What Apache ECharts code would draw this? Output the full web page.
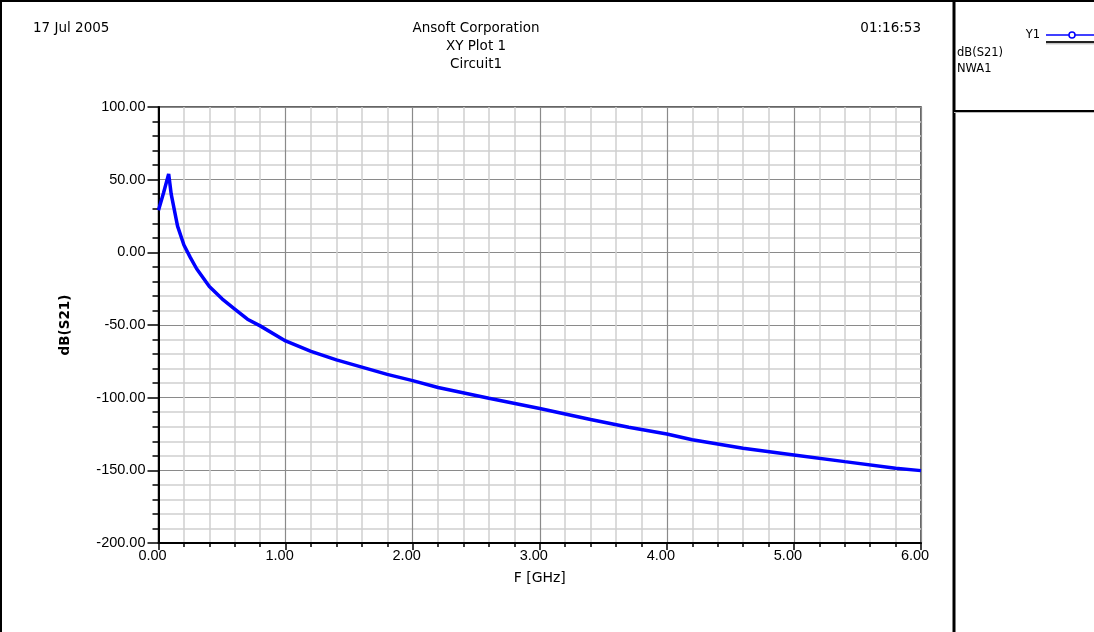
<!DOCTYPE html>
<html>
<head>
<meta charset="utf-8">
<script src="https://cdn.jsdelivr.net/npm/echarts@6/dist/echarts.min.js"></script>
<style>
  html, body { margin: 0; padding: 0; background: #fff; }
  #chart { width: 1094px; height: 632px; }
</style>
</head>
<body>
<div id="chart"></div>
<script>
// Sweep frequency (GHz) and transmission magnitude dB(S21) of NWA1
const freqGHz = [0, 0.04, 0.08, 0.10, 0.15, 0.20, 0.25, 0.30, 0.40, 0.50, 0.60, 0.70, 0.80,
                 1.0, 1.2, 1.4, 1.6, 1.8, 2.0, 2.2, 2.6, 3.0, 3.4, 3.7, 4.0, 4.2, 4.6,
                 5.0, 5.4, 5.8, 6.0];
const dbS21 = [29, 41, 54, 40, 18, 5, -3.5, -11.3, -23.5, -32, -39, -46, -50.6,
               -61, -68.2, -74, -79, -84, -88.3, -93, -100.4, -107.5, -115, -120.4, -125, -129, -134.8,
               -139.4, -144, -148.5, -150.2];

// Axis ranges and tick spacing
const xRange = [0, 6];
const xStep = 1;
const yRange = [-200, 100];
const yStep = 50;

// Page header and legend texts
const headerLeft = '17 Jul 2005';
const headerCenter = ['Ansoft Corporation', 'XY Plot 1', 'Circuit1'];
const headerRight = '01:16:53';
const legendTrace = 'Y1';
const legendLines = ['dB(S21)', 'NWA1'];

const TICK_FONT = '"Liberation Sans", Arial, sans-serif';
const PAGE_FONT = '"DejaVu Sans", Verdana, sans-serif';
const chart = echarts.init(document.getElementById('chart'), null, { renderer: 'canvas' });

const points = freqGHz.map((f, i) => [f, dbS21[i]]);

const txt = (text, x, y, align, size) => ({
  type: 'text',
  silent: true,
  style: {
    text, x, y,
    textAlign: align,
    textVerticalAlign: 'middle',
    fontSize: size,
    fontFamily: PAGE_FONT,
    fill: '#000'
  }
});
const seg = (x1, y1, x2, y2, color, width) => ({
  type: 'line',
  silent: true,
  shape: { x1, y1, x2, y2 },
  style: { stroke: color, lineWidth: width }
});

chart.setOption({
  animation: false,
  backgroundColor: '#ffffff',
  grid: {
    left: 158.5, top: 107, right: 173, bottom: 89,
    show: true, borderColor: '#333', borderWidth: 1.5
  },
  xAxis: {
    type: 'value',
    min: xRange[0], max: xRange[1], interval: xStep,
    name: 'F [GHz]',
    nameLocation: 'middle',
    nameGap: 28,
    nameTextStyle: { fontFamily: PAGE_FONT, fontSize: 14, color: '#000' },
    axisLine: { show: true, onZero: false, lineStyle: { color: '#000', width: 2 } },
    axisTick: { show: true, length: 7, lineStyle: { color: '#000', width: 1.5 } },
    minorTick: { show: true, splitNumber: 5, length: 4, lineStyle: { color: '#000', width: 1.5 } },
    axisLabel: {
      fontFamily: TICK_FONT, fontSize: 14.5, color: '#000', margin: 5,
      padding: [0, 12, 0, 0],
      formatter: v => v.toFixed(2)
    },
    splitLine: { show: true, lineStyle: { color: '#8a8a8a', width: 1.2 } },
    minorSplitLine: { show: true, lineStyle: { color: '#cfcfcf', width: 1.5 } }
  },
  yAxis: {
    type: 'value',
    min: yRange[0], max: yRange[1], interval: yStep,
    name: 'dB(S21)',
    nameLocation: 'middle',
    nameGap: 86,
    nameRotate: 90,
    nameTextStyle: { fontFamily: PAGE_FONT, fontSize: 13.5, fontWeight: 'bold', color: '#000' },
    axisLine: { show: true, onZero: false, lineStyle: { color: '#000', width: 2 } },
    axisTick: { show: true, length: 11, lineStyle: { color: '#000', width: 1.5 } },
    minorTick: { show: true, splitNumber: 5, length: 6, lineStyle: { color: '#000', width: 1.5 } },
    axisLabel: {
      fontFamily: TICK_FONT, fontSize: 14.5, color: '#000', margin: 13,
      formatter: v => v.toFixed(2)
    },
    splitLine: { show: true, lineStyle: { color: '#8a8a8a', width: 1.2 } },
    minorSplitLine: { show: true, lineStyle: { color: '#cfcfcf', width: 1.5 } }
  },
  series: [{
    name: 'dB(S21)',
    type: 'line',
    data: points,
    showSymbol: false,
    smooth: false,
    lineStyle: { color: '#0000ff', width: 3.5 },
    clip: false,
    z: 5
  }],
  graphic: [
    // page frame and side panel dividers
    seg(0, 1, 1094, 1, '#000', 2),
    seg(1, 0, 1, 632, '#000', 2),
    seg(954, 0, 954, 632, '#000', 3),
    seg(954, 111, 1094, 111, '#000', 2),
    seg(954, 112.5, 1094, 112.5, '#bbb', 1),
    // header
    txt(headerLeft, 33, 28, 'left', 13.5),
    txt(headerCenter[0], 476, 28, 'center', 13.5),
    txt(headerCenter[1], 476, 46, 'center', 13.5),
    txt(headerCenter[2], 476, 64, 'center', 13.5),
    txt(headerRight, 921, 28, 'right', 13.5),
    // legend
    txt(legendTrace, 1040, 35, 'right', 11.5),
    seg(1046, 35, 1094, 35, '#0000ff', 1.5),
    {
      type: 'circle', silent: true,
      shape: { cx: 1072, cy: 35, r: 3 },
      style: { fill: '#fff', stroke: '#0000ff', lineWidth: 1.5 }
    },
    seg(1046, 42, 1094, 42, '#222', 2),
    seg(1046, 43.8, 1094, 43.8, '#aaa', 1),
    txt(legendLines[0], 957, 53, 'left', 11.5),
    txt(legendLines[1], 957, 69, 'left', 11.5)
  ]
});
</script>
</body>
</html>
